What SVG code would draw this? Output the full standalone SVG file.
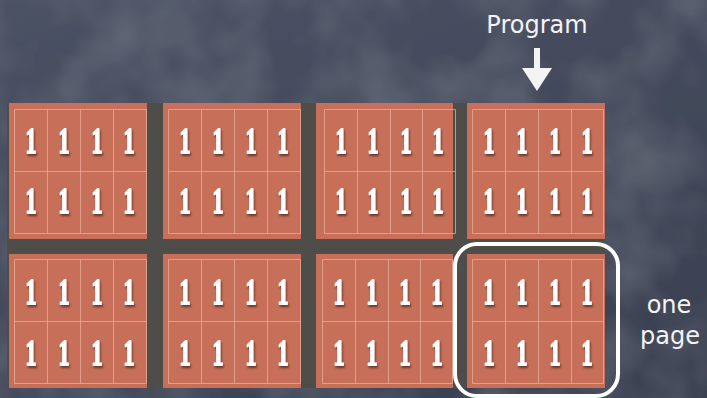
<svg xmlns="http://www.w3.org/2000/svg" width="707" height="398" viewBox="0 0 707 398">
  <defs>
    <filter id="chalkboard" x="0" y="0" width="100%" height="100%">
      <feTurbulence type="fractalNoise" baseFrequency="0.015" numOctaves="3" seed="4" result="n"/>
      <feColorMatrix in="n" type="matrix" values="0 0 0 0 0.33  0 0 0 0 0.36  0 0 0 0 0.43  0 0 0 0.35 -0.12" result="c"/>
      <feComposite in="c" in2="SourceGraphic" operator="over"/>
    </filter>
    <filter id="shadow" x="-50%" y="-50%" width="200%" height="200%">
      <feDropShadow dx="1" dy="2" stdDeviation="1.2" flood-color="#000" flood-opacity="0.5"/>
    </filter>
    <linearGradient id="bgGrad" x1="0" y1="0" x2="0.6" y2="1">
      <stop offset="0" stop-color="#4b5264"/>
      <stop offset="1" stop-color="#3c4253"/>
    </linearGradient>
  </defs>
  <style>
    .tile { fill: #c76f59; }
    .grid { fill: none; stroke: #eab3a2; stroke-opacity: 0.7; stroke-width: 1; }
    .one { font-family: "Liberation Serif", "DejaVu Serif", serif; font-weight: bold; font-size: 35px; fill: #ffffff; stroke: #ffffff; stroke-width: 1.8; stroke-linejoin: round; text-anchor: middle; filter: url(#shadow); }
    .chalk { font-family: "DejaVu Sans", "Noto Sans", sans-serif; fill: #f4f4f4; }
  </style>

  <!-- background -->
  <rect x="0" y="0" width="707" height="398" fill="url(#bgGrad)" filter="url(#chalkboard)"/>
  <rect x="7" y="103" width="598" height="285" fill="#4e4d49"/>

  <!-- Row 1 -->
  <g id="page-r1c1">
    <rect class="tile" x="9" y="103" width="138" height="136"/>
    <path class="grid" d="M14.5 109.5H146.5V233.5H14.5Z M14.5 171.5H146.5 M47.5 109.5V233.5 M80.5 109.5V233.5 M113.5 109.5V233.5"/>
    <text class="one" x="31" y="153" textLength="11" lengthAdjust="spacingAndGlyphs">1</text><text class="one" x="64" y="153" textLength="11" lengthAdjust="spacingAndGlyphs">1</text><text class="one" x="97" y="153" textLength="11" lengthAdjust="spacingAndGlyphs">1</text><text class="one" x="129" y="153" textLength="11" lengthAdjust="spacingAndGlyphs">1</text>
    <text class="one" x="31" y="213" textLength="11" lengthAdjust="spacingAndGlyphs">1</text><text class="one" x="64" y="213" textLength="11" lengthAdjust="spacingAndGlyphs">1</text><text class="one" x="97" y="213" textLength="11" lengthAdjust="spacingAndGlyphs">1</text><text class="one" x="129" y="213" textLength="11" lengthAdjust="spacingAndGlyphs">1</text>
  </g>
  <g id="page-r1c2">
    <rect class="tile" x="163" y="103" width="138" height="136"/>
    <path class="grid" d="M168.5 109.5H300.5V233.5H168.5Z M168.5 171.5H300.5 M201.5 109.5V233.5 M234.5 109.5V233.5 M267.5 109.5V233.5"/>
    <text class="one" x="185" y="153" textLength="11" lengthAdjust="spacingAndGlyphs">1</text><text class="one" x="218" y="153" textLength="11" lengthAdjust="spacingAndGlyphs">1</text><text class="one" x="251" y="153" textLength="11" lengthAdjust="spacingAndGlyphs">1</text><text class="one" x="283" y="153" textLength="11" lengthAdjust="spacingAndGlyphs">1</text>
    <text class="one" x="185" y="213" textLength="11" lengthAdjust="spacingAndGlyphs">1</text><text class="one" x="218" y="213" textLength="11" lengthAdjust="spacingAndGlyphs">1</text><text class="one" x="251" y="213" textLength="11" lengthAdjust="spacingAndGlyphs">1</text><text class="one" x="283" y="213" textLength="11" lengthAdjust="spacingAndGlyphs">1</text>
  </g>
  <g id="page-r1c3">
    <rect class="tile" x="316" y="103" width="137" height="136"/>
    <path class="grid" d="M324.5 109.5H455.5V233.5H324.5Z M324.5 171.5H455.5 M357.5 109.5V233.5 M390.5 109.5V233.5 M422.5 109.5V233.5"/>
    <text class="one" x="341" y="153" textLength="11" lengthAdjust="spacingAndGlyphs">1</text><text class="one" x="373" y="153" textLength="11" lengthAdjust="spacingAndGlyphs">1</text><text class="one" x="406" y="153" textLength="11" lengthAdjust="spacingAndGlyphs">1</text><text class="one" x="438" y="153" textLength="11" lengthAdjust="spacingAndGlyphs">1</text>
    <text class="one" x="341" y="213" textLength="11" lengthAdjust="spacingAndGlyphs">1</text><text class="one" x="373" y="213" textLength="11" lengthAdjust="spacingAndGlyphs">1</text><text class="one" x="406" y="213" textLength="11" lengthAdjust="spacingAndGlyphs">1</text><text class="one" x="438" y="213" textLength="11" lengthAdjust="spacingAndGlyphs">1</text>
  </g>
  <g id="page-r1c4">
    <rect class="tile" x="467" y="103" width="138" height="136"/>
    <path class="grid" d="M472.5 109.5H603.5V233.5H472.5Z M472.5 171.5H603.5 M505.5 109.5V233.5 M538.5 109.5V233.5 M571.5 109.5V233.5"/>
    <text class="one" x="489" y="153" textLength="11" lengthAdjust="spacingAndGlyphs">1</text><text class="one" x="522" y="153" textLength="11" lengthAdjust="spacingAndGlyphs">1</text><text class="one" x="555" y="153" textLength="11" lengthAdjust="spacingAndGlyphs">1</text><text class="one" x="587" y="153" textLength="11" lengthAdjust="spacingAndGlyphs">1</text>
    <text class="one" x="489" y="213" textLength="11" lengthAdjust="spacingAndGlyphs">1</text><text class="one" x="522" y="213" textLength="11" lengthAdjust="spacingAndGlyphs">1</text><text class="one" x="555" y="213" textLength="11" lengthAdjust="spacingAndGlyphs">1</text><text class="one" x="587" y="213" textLength="11" lengthAdjust="spacingAndGlyphs">1</text>
  </g>

  <!-- Row 2 -->
  <g id="page-r2c1">
    <rect class="tile" x="9" y="254" width="138" height="134"/>
    <path class="grid" d="M14.5 259.5H146.5V383.5H14.5Z M14.5 321.5H146.5 M47.5 259.5V383.5 M80.5 259.5V383.5 M113.5 259.5V383.5"/>
    <text class="one" x="31" y="304" textLength="11" lengthAdjust="spacingAndGlyphs">1</text><text class="one" x="64" y="304" textLength="11" lengthAdjust="spacingAndGlyphs">1</text><text class="one" x="97" y="304" textLength="11" lengthAdjust="spacingAndGlyphs">1</text><text class="one" x="129" y="304" textLength="11" lengthAdjust="spacingAndGlyphs">1</text>
    <text class="one" x="31" y="365" textLength="11" lengthAdjust="spacingAndGlyphs">1</text><text class="one" x="64" y="365" textLength="11" lengthAdjust="spacingAndGlyphs">1</text><text class="one" x="97" y="365" textLength="11" lengthAdjust="spacingAndGlyphs">1</text><text class="one" x="129" y="365" textLength="11" lengthAdjust="spacingAndGlyphs">1</text>
  </g>
  <g id="page-r2c2">
    <rect class="tile" x="163" y="254" width="138" height="134"/>
    <path class="grid" d="M168.5 259.5H300.5V383.5H168.5Z M168.5 321.5H300.5 M201.5 259.5V383.5 M234.5 259.5V383.5 M267.5 259.5V383.5"/>
    <text class="one" x="185" y="304" textLength="11" lengthAdjust="spacingAndGlyphs">1</text><text class="one" x="218" y="304" textLength="11" lengthAdjust="spacingAndGlyphs">1</text><text class="one" x="251" y="304" textLength="11" lengthAdjust="spacingAndGlyphs">1</text><text class="one" x="283" y="304" textLength="11" lengthAdjust="spacingAndGlyphs">1</text>
    <text class="one" x="185" y="365" textLength="11" lengthAdjust="spacingAndGlyphs">1</text><text class="one" x="218" y="365" textLength="11" lengthAdjust="spacingAndGlyphs">1</text><text class="one" x="251" y="365" textLength="11" lengthAdjust="spacingAndGlyphs">1</text><text class="one" x="283" y="365" textLength="11" lengthAdjust="spacingAndGlyphs">1</text>
  </g>
  <g id="page-r2c3">
    <rect class="tile" x="316" y="254" width="137" height="134"/>
    <path class="grid" d="M322.5 259.5H452.5V383.5H322.5Z M322.5 321.5H452.5 M355.5 259.5V383.5 M388.5 259.5V383.5 M420.5 259.5V383.5"/>
    <text class="one" x="339" y="304" textLength="11" lengthAdjust="spacingAndGlyphs">1</text><text class="one" x="372" y="304" textLength="11" lengthAdjust="spacingAndGlyphs">1</text><text class="one" x="405" y="304" textLength="11" lengthAdjust="spacingAndGlyphs">1</text><text class="one" x="437" y="304" textLength="11" lengthAdjust="spacingAndGlyphs">1</text>
    <text class="one" x="339" y="365" textLength="11" lengthAdjust="spacingAndGlyphs">1</text><text class="one" x="372" y="365" textLength="11" lengthAdjust="spacingAndGlyphs">1</text><text class="one" x="405" y="365" textLength="11" lengthAdjust="spacingAndGlyphs">1</text><text class="one" x="437" y="365" textLength="11" lengthAdjust="spacingAndGlyphs">1</text>
  </g>
  <g id="page-r2c4">
    <rect class="tile" x="467" y="254" width="138" height="134"/>
    <path class="grid" d="M472.5 259.5H603.5V383.5H472.5Z M472.5 321.5H603.5 M505.5 259.5V383.5 M538.5 259.5V383.5 M571.5 259.5V383.5"/>
    <text class="one" x="489" y="304" textLength="11" lengthAdjust="spacingAndGlyphs">1</text><text class="one" x="522" y="304" textLength="11" lengthAdjust="spacingAndGlyphs">1</text><text class="one" x="555" y="304" textLength="11" lengthAdjust="spacingAndGlyphs">1</text><text class="one" x="587" y="304" textLength="11" lengthAdjust="spacingAndGlyphs">1</text>
    <text class="one" x="489" y="365" textLength="11" lengthAdjust="spacingAndGlyphs">1</text><text class="one" x="522" y="365" textLength="11" lengthAdjust="spacingAndGlyphs">1</text><text class="one" x="555" y="365" textLength="11" lengthAdjust="spacingAndGlyphs">1</text><text class="one" x="587" y="365" textLength="11" lengthAdjust="spacingAndGlyphs">1</text>
  </g>

  <!-- labels -->
  <g id="label-program">
    <text class="chalk" x="537" y="33" font-size="24" text-anchor="middle">Program</text>
  </g>
  <g id="label-one-page">
    <text class="chalk" x="669" y="313" font-size="24" text-anchor="middle">one</text>
    <text class="chalk" x="670" y="344" font-size="24" text-anchor="middle">page</text>
  </g>

  <!-- highlight of one page -->
  <g id="highlight">
    <rect x="455" y="244" width="163" height="152" rx="22" ry="22" fill="none" stroke="#ffffff" stroke-width="4"/>
  </g>

  <!-- connectors -->
  <g id="connectors">
    <path d="M537 48V70" stroke="#f4f4f4" stroke-width="6" fill="none"/>
    <polygon points="522,68 552,68 537,91" fill="#f4f4f4"/>
  </g>
</svg>
